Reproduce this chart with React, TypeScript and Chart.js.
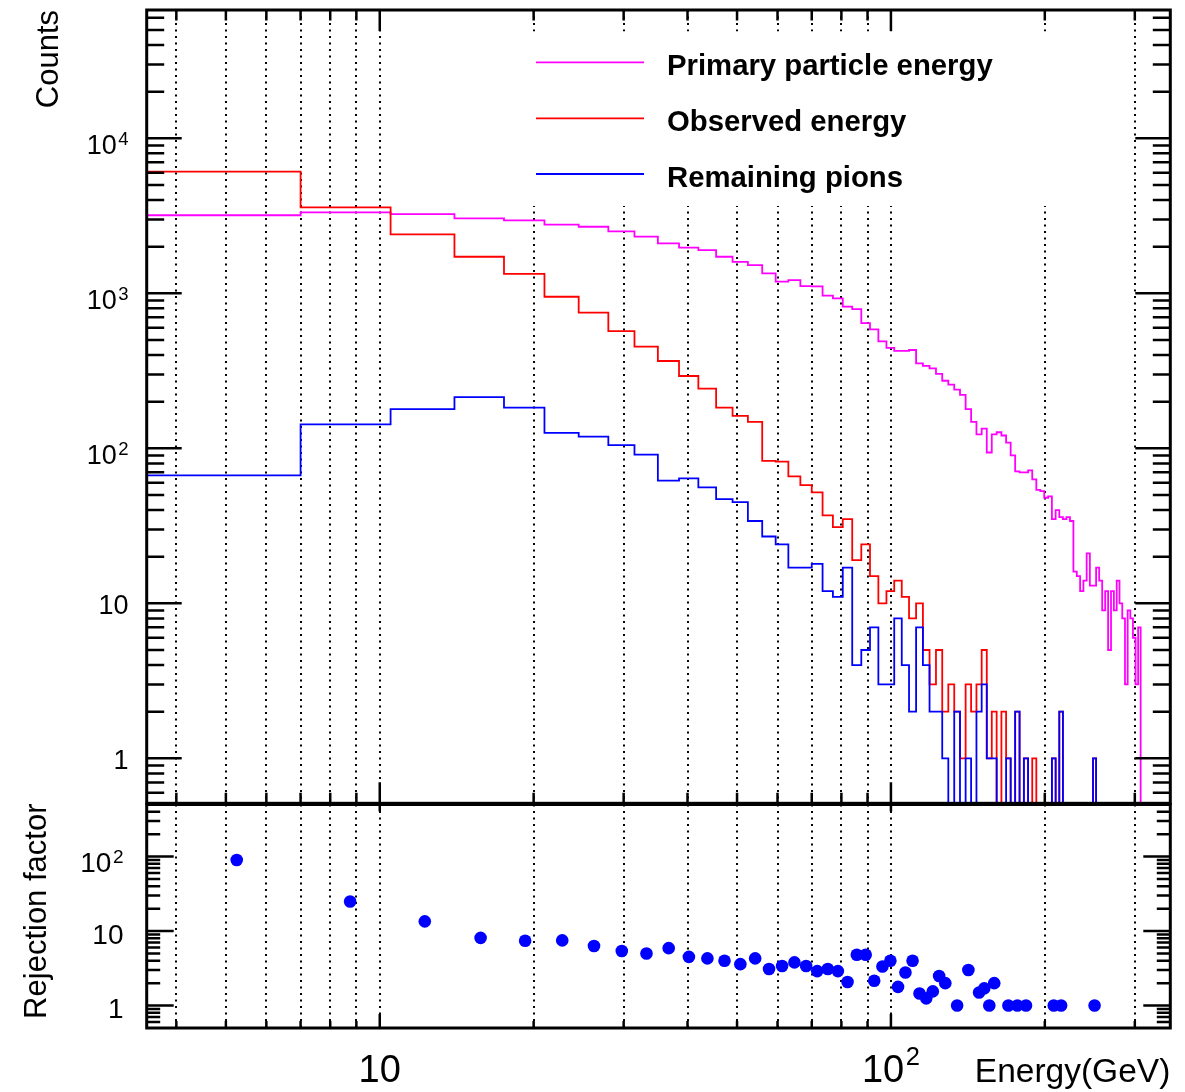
import React, { useEffect, useRef } from "react";
import { Chart, registerables } from "chart.js";

Chart.register(...registerables);

// ---------- data ----------
const BIN_EDGES = [
  3.5, 7, 10.5, 14, 17.5, 21, 24.5, 28, 31.5, 35,
  38.5, 42, 45.5, 49, 52.5, 56, 59.5, 63, 66.5, 70,
  73.5, 77, 80.5, 84, 87.5, 91, 94.5, 98, 101.5, 105,
  108.5, 112, 115.5, 119, 122.5, 126, 129.5, 133, 136.5, 140,
  143.5, 147, 150.5, 154, 157.5, 161, 164.5, 168, 171.5, 175,
  178.5, 182, 185.5, 189, 192.5, 196, 199.5, 203, 206.5, 210,
  213.5, 217, 220.5, 224, 227.5, 231, 234.5, 238, 241.5, 245,
  248.5, 252, 255.5, 259, 262.5, 266, 269.5, 273, 276.5, 280,
  283.5, 287, 290.5, 294, 297.5, 301, 304.5, 308, 311.5, 315,
  318.5, 322, 325.5, 329, 332.5, 336, 339.5, 343, 346.5, 350,
];

const PRIMARY_ENERGY = [
  3190, 3330, 3240, 3050, 2960, 2775, 2690, 2510, 2320, 2100,
  1970, 1900, 1722, 1595, 1523, 1346, 1189, 1218, 1114, 1110,
  966, 929, 820, 790, 643, 586, 490, 445, 426, 426,
  431, 353, 341, 328, 302, 273, 258, 239, 221, 179,
  148, 123, 134, 94, 123, 127, 121, 109, 90, 71,
  70, 70, 72, 63, 54, 53, 48, 49, 35, 40,
  36, 35, 36, 34, 16, 15, 12, 14, 21, 13,
  13, 17, 14, 9, 12, 5, 12, 9, 14, 10,
  8, 3, 9, 8, 6, 3, 7, 0, 0, 0,
  0, 0, 0, 0, 0, 0, 0, 0, 0,
];

const OBSERVED_ENERGY = [
  6100, 3590, 2400, 1722, 1337, 951, 750, 571, 453, 366,
  293, 243, 183, 162, 148, 83, 82, 66, 58, 52,
  37, 31, 35, 19, 24, 15, 10, 12, 14, 11,
  8, 10, 5, 3, 5, 2, 3, 2, 1, 3,
  2, 3, 5, 1, 2, 0, 2, 1, 0, 2,
  0, 1, 0, 1, 0, 0, 0, 0, 1, 0,
  2, 0, 0, 0, 0, 0, 0, 0, 0, 0,
  1, 0, 0, 0, 0, 0, 0, 0, 0, 0,
  0, 0, 0, 0, 0, 0, 0, 0, 0, 0,
  0, 0, 0, 0, 0, 0, 0, 0, 0,
];

const REMAINING_PIONS = [
  67, 143, 179, 214, 183, 126, 119, 105, 91, 62,
  64, 56, 47, 45, 34, 27, 24, 17, 17, 18,
  12, 11, 17, 4, 5, 7, 3, 3, 8, 4,
  2, 7, 4, 2, 2, 1, 0, 2, 0, 1,
  0, 2, 3, 1, 1, 0, 0, 1, 0, 2,
  0, 1, 0, 0, 0, 0, 0, 0, 1, 0,
  2, 0, 0, 0, 0, 0, 0, 0, 0, 0,
  1, 0, 0, 0, 0, 0, 0, 0, 0, 0,
  0, 0, 0, 0, 0, 0, 0, 0, 0, 0,
  0, 0, 0, 0, 0, 0, 0, 0, 0,
];

const REJECTION_ENERGY = [
  5.25, 8.75, 12.25, 15.75, 19.25, 22.75, 26.25, 29.75, 33.25, 36.75,
  40.25, 43.75, 47.25, 50.75, 54.25, 57.75, 61.25, 64.75, 68.25, 71.75,
  75.25, 78.75, 82.25, 85.75, 89.25, 92.75, 96.25, 99.75, 103.25, 106.75,
  110.25, 113.75, 117.25, 120.75, 124.25, 127.75, 134.75, 141.75, 148.75, 152.25,
  155.75, 159.25, 169.75, 176.75, 183.75, 208.25, 215.25, 250.25,
];
const REJECTION_FACTOR = [
  90, 25, 13.5, 8.1, 7.4, 7.5, 6.3, 5.4, 5.0, 5.9,
  4.5, 4.3, 4.0, 3.6, 4.3, 3.1, 3.4, 3.8, 3.4, 2.9,
  3.1, 2.9, 2.07, 4.8, 4.8, 2.15, 3.35, 4.0, 1.78, 2.78,
  4.0, 1.45, 1.25, 1.55, 2.5, 2.0, 1, 3, 1.5, 1.7,
  1, 2.0, 1, 1, 1, 1, 1, 1,
];

const SERIES_NAMES = ["Primary particle energy", "Observed energy", "Remaining pions"];
const SERIES_COLORS = ["#ff00ff", "#ff0000", "#0000ff"];

const X_MIN = 3.5;
const X_MAX = 352;
const TOP_Y_MIN = 0.513;
const TOP_Y_MAX = 67300;
const BOT_Y_MIN = 0.5;
const BOT_Y_MAX = 500;

const X_MAJOR_TICKS = [10, 100];
const X_MINOR_TICKS = [4, 5, 6, 7, 8, 9, 20, 30, 40, 50, 60, 70, 80, 90, 200, 300];
const X_GRID = [4, 5, 6, 7, 8, 9, 10, 20, 30, 40, 50, 60, 70, 80, 90, 100, 200, 300];
const X_LABEL_VALUES = [10, 100];
const X_LABEL_TEXTS = ["10", "10^2"];

const TOP_Y_LABEL_VALUES = [1, 10, 100, 1000, 10000];
const TOP_Y_LABEL_TEXTS = ["1", "10", "10^2", "10^3", "10^4"];
const BOT_Y_LABEL_VALUES = [1, 10, 100];
const BOT_Y_LABEL_TEXTS = ["1", "10", "10^2"];

const X_TITLE = "Energy(GeV)";
const TOP_Y_TITLE = "Counts";
const BOT_Y_TITLE = "Rejection factor";

const FONT = "'Liberation Sans', Arial, Helvetica, sans-serif";

// ---------- helpers ----------
function histPoints(values: number[], floor: number) {
  const pts: { x: number; y: number }[] = [{ x: BIN_EDGES[0], y: floor }];
  for (let i = 0; i < values.length; i++) {
    const v = values[i] > 0 ? values[i] : floor;
    pts.push({ x: BIN_EDGES[i], y: v });
    pts.push({ x: BIN_EDGES[i + 1], y: v });
  }
  pts.push({ x: BIN_EDGES[values.length], y: floor });
  return pts;
}

function decadeMajors(min: number, max: number) {
  const out: number[] = [];
  for (let e = Math.floor(Math.log10(min)); e <= Math.ceil(Math.log10(max)); e++) {
    const v = Math.pow(10, e);
    if (v >= min && v <= max) out.push(v);
  }
  return out;
}
function decadeMinors(min: number, max: number) {
  const out: number[] = [];
  for (let e = Math.floor(Math.log10(min)); e <= Math.ceil(Math.log10(max)); e++) {
    for (let m = 2; m <= 9; m++) {
      const v = m * Math.pow(10, e);
      if (v > min && v < max) out.push(v);
    }
  }
  return out;
}

function drawPow(
  ctx: CanvasRenderingContext2D,
  text: string,
  x: number,
  baseline: number,
  align: "right" | "center",
  baseSize: number,
  supSize: number,
  supRise: number
) {
  const parts = text.split("^");
  const base = parts[0];
  const sup = parts[1];
  ctx.font = `${baseSize}px ${FONT}`;
  const bw = ctx.measureText(base).width;
  let sw = 0;
  const gap = 1.5;
  if (sup) {
    ctx.font = `${supSize}px ${FONT}`;
    sw = ctx.measureText(sup).width + gap;
  }
  const total = bw + sw;
  const left = align === "right" ? x - total : x - total / 2;
  ctx.textAlign = "left";
  ctx.textBaseline = "alphabetic";
  ctx.fillStyle = "#000";
  ctx.font = `${baseSize}px ${FONT}`;
  ctx.fillText(base, left, baseline);
  if (sup) {
    ctx.font = `${supSize}px ${FONT}`;
    ctx.fillText(sup, left + bw + gap, baseline - supRise);
  }
}

function drawGrid(chart: any) {
  const ctx: CanvasRenderingContext2D = chart.ctx;
  const { top, bottom } = chart.chartArea;
  const xs = chart.scales.x;
  ctx.save();
  ctx.strokeStyle = "#000";
  ctx.lineWidth = 2;
  ctx.setLineDash([2, 4.5]);
  ctx.beginPath();
  for (const v of X_GRID) {
    const px = Math.round(xs.getPixelForValue(v));
    ctx.moveTo(px, top);
    ctx.lineTo(px, bottom);
  }
  ctx.stroke();
  ctx.restore();
}

function drawFrameAndTicks(
  chart: any,
  yMajorLen: number,
  xTopMajor: number,
  xTopMinor: number,
  xBotMajor: number,
  xBotMinor: number
) {
  const ctx: CanvasRenderingContext2D = chart.ctx;
  const { left, right, top, bottom } = chart.chartArea;
  const xs = chart.scales.x;
  const ys = chart.scales.y;
  ctx.save();
  ctx.strokeStyle = "#000";
  ctx.lineCap = "butt";
  ctx.lineWidth = 2.5;
  ctx.beginPath();
  const yMin = ys.min;
  const yMax = ys.max;
  for (const v of decadeMajors(yMin, yMax)) {
    const py = ys.getPixelForValue(v);
    ctx.moveTo(left, py);
    ctx.lineTo(left + yMajorLen, py);
    ctx.moveTo(right, py);
    ctx.lineTo(right - yMajorLen, py);
  }
  for (const v of decadeMinors(yMin, yMax)) {
    const py = ys.getPixelForValue(v);
    ctx.moveTo(left, py);
    ctx.lineTo(left + yMajorLen / 2, py);
    ctx.moveTo(right, py);
    ctx.lineTo(right - yMajorLen / 2, py);
  }
  for (const v of X_MAJOR_TICKS) {
    const px = xs.getPixelForValue(v);
    if (xTopMajor > 0) {
      ctx.moveTo(px, top);
      ctx.lineTo(px, top + xTopMajor);
    }
    ctx.moveTo(px, bottom);
    ctx.lineTo(px, bottom - xBotMajor);
  }
  for (const v of X_MINOR_TICKS) {
    const px = xs.getPixelForValue(v);
    if (xTopMinor > 0) {
      ctx.moveTo(px, top);
      ctx.lineTo(px, top + xTopMinor);
    }
    ctx.moveTo(px, bottom);
    ctx.lineTo(px, bottom - xBotMinor);
  }
  ctx.stroke();
  ctx.lineWidth = 3;
  ctx.strokeRect(left, top, right - left, bottom - top);
  ctx.restore();
}

const topDecor = {
  id: "topDecor",
  beforeDatasetsDraw(chart: any) {
    drawGrid(chart);
    // opaque legend box (hides grid behind the legend, as in the original)
    const ctx: CanvasRenderingContext2D = chart.ctx;
    ctx.save();
    ctx.fillStyle = "#fff";
    ctx.fillRect(470, 31.5, 1090 - 470, 206 - 31.5);
    ctx.restore();
  },
  afterDatasetsDraw(chart: any) {
    const ctx: CanvasRenderingContext2D = chart.ctx;
    drawFrameAndTicks(chart, 35, 21, 10.5, 21, 10.5);
    const ys = chart.scales.y;
    TOP_Y_LABEL_VALUES.forEach((v, i) => {
      const t = TOP_Y_LABEL_TEXTS[i];
      const py = ys.getPixelForValue(v);
      const hasSup = t.indexOf("^") >= 0;
      drawPow(ctx, t, 128.5, py + (hasSup ? 15.7 : 10.5), "right", 27, 18.5, 9);
    });
    ctx.save();
    ctx.translate(58, chart.chartArea.top);
    ctx.rotate(-Math.PI / 2);
    ctx.font = `31px ${FONT}`;
    ctx.fillStyle = "#000";
    ctx.textAlign = "right";
    ctx.textBaseline = "alphabetic";
    ctx.fillText(TOP_Y_TITLE, 0, 0);
    ctx.restore();
    const legendY = [62.3, 118.3, 174];
    const legendBase = [75, 131, 186.7];
    ctx.save();
    SERIES_NAMES.forEach((name, i) => {
      ctx.strokeStyle = SERIES_COLORS[i];
      ctx.lineWidth = 1.8;
      ctx.beginPath();
      ctx.moveTo(536, legendY[i]);
      ctx.lineTo(644, legendY[i]);
      ctx.stroke();
      ctx.font = `bold 29.3px ${FONT}`;
      ctx.fillStyle = "#000";
      ctx.textAlign = "left";
      ctx.textBaseline = "alphabetic";
      ctx.fillText(name, 667, legendBase[i]);
    });
    ctx.restore();
  },
};

const botDecor = {
  id: "botDecor",
  beforeDatasetsDraw(chart: any) {
    drawGrid(chart);
  },
  afterDatasetsDraw(chart: any) {
    const ctx: CanvasRenderingContext2D = chart.ctx;
    drawFrameAndTicks(chart, 27, 7, 0, 14, 7);
    const ys = chart.scales.y;
    const xs = chart.scales.x;
    BOT_Y_LABEL_VALUES.forEach((v, i) => {
      const t = BOT_Y_LABEL_TEXTS[i];
      const py = ys.getPixelForValue(v);
      const hasSup = t.indexOf("^") >= 0;
      drawPow(ctx, t, 123.5, py + (hasSup ? 15.5 : 12.5), "right", 28, 19, 9.5);
    });
    X_LABEL_VALUES.forEach((v, i) => {
      const px = xs.getPixelForValue(v);
      drawPow(ctx, X_LABEL_TEXTS[i], px, 1082, "center", 38, 25.5, 17);
    });
    ctx.save();
    ctx.font = `33.5px ${FONT}`;
    ctx.fillStyle = "#000";
    ctx.textAlign = "right";
    ctx.textBaseline = "alphabetic";
    ctx.fillText(X_TITLE, chart.chartArea.right, 1082);
    ctx.translate(46, chart.chartArea.top - 1);
    ctx.rotate(-Math.PI / 2);
    ctx.font = `31px ${FONT}`;
    ctx.textAlign = "right";
    ctx.fillText(BOT_Y_TITLE, 0, 0);
    ctx.restore();
  },
};

const W = 1185;
const H = 1092;

export default function App() {
  const topRef = useRef<HTMLCanvasElement>(null);
  const botRef = useRef<HTMLCanvasElement>(null);

  useEffect(() => {
    const common = {
      responsive: false,
      maintainAspectRatio: false,
      animation: false as const,
      devicePixelRatio: 1,
      events: [] as any[],
      plugins: { legend: { display: false }, tooltip: { enabled: false } },
    };
    const histDs = (label: string, values: number[], color: string) => ({
      type: "line" as const,
      label,
      data: histPoints(values, TOP_Y_MIN),
      borderColor: color,
      backgroundColor: color,
      borderWidth: 1.8,
      pointRadius: 0,
      tension: 0,
      fill: false,
    });
    const topChart = new Chart(topRef.current as HTMLCanvasElement, {
      type: "line",
      data: {
        datasets: [
          histDs(SERIES_NAMES[2], REMAINING_PIONS, SERIES_COLORS[2]),
          histDs(SERIES_NAMES[1], OBSERVED_ENERGY, SERIES_COLORS[1]),
          histDs(SERIES_NAMES[0], PRIMARY_ENERGY, SERIES_COLORS[0]),
        ],
      },
      options: {
        ...common,
        layout: { padding: { left: 146.7, right: W - 1170.3, top: 10, bottom: H - 803.3 } },
        scales: {
          x: { type: "logarithmic", min: X_MIN, max: X_MAX, display: false, bounds: "data" },
          y: { type: "logarithmic", min: TOP_Y_MIN, max: TOP_Y_MAX, display: false, bounds: "data" },
        },
      } as any,
      plugins: [topDecor],
    });
    const botChart = new Chart(botRef.current as HTMLCanvasElement, {
      type: "scatter",
      data: {
        datasets: [
          {
            label: BOT_Y_TITLE,
            data: REJECTION_ENERGY.map((e, i) => ({ x: e, y: REJECTION_FACTOR[i] })),
            backgroundColor: SERIES_COLORS[2],
            borderColor: SERIES_COLORS[2],
            borderWidth: 0,
            pointRadius: 6.3,
            pointStyle: "circle",
          },
        ],
      },
      options: {
        ...common,
        layout: { padding: { left: 146.7, right: W - 1170.3, top: 804.5, bottom: H - 1028 } },
        scales: {
          x: { type: "logarithmic", min: X_MIN, max: X_MAX, display: false, bounds: "data" },
          y: { type: "logarithmic", min: BOT_Y_MIN, max: BOT_Y_MAX, display: false, bounds: "data" },
        },
      } as any,
      plugins: [botDecor],
    });
    return () => {
      topChart.destroy();
      botChart.destroy();
    };
  }, []);

  return (
    <div style={{ position: "absolute", left: 0, top: 0, width: W, height: H, background: "#fff" }}>
      <canvas ref={topRef} width={W} height={H} style={{ position: "absolute", left: 0, top: 0 }} />
      <canvas ref={botRef} width={W} height={H} style={{ position: "absolute", left: 0, top: 0 }} />
    </div>
  );
}
